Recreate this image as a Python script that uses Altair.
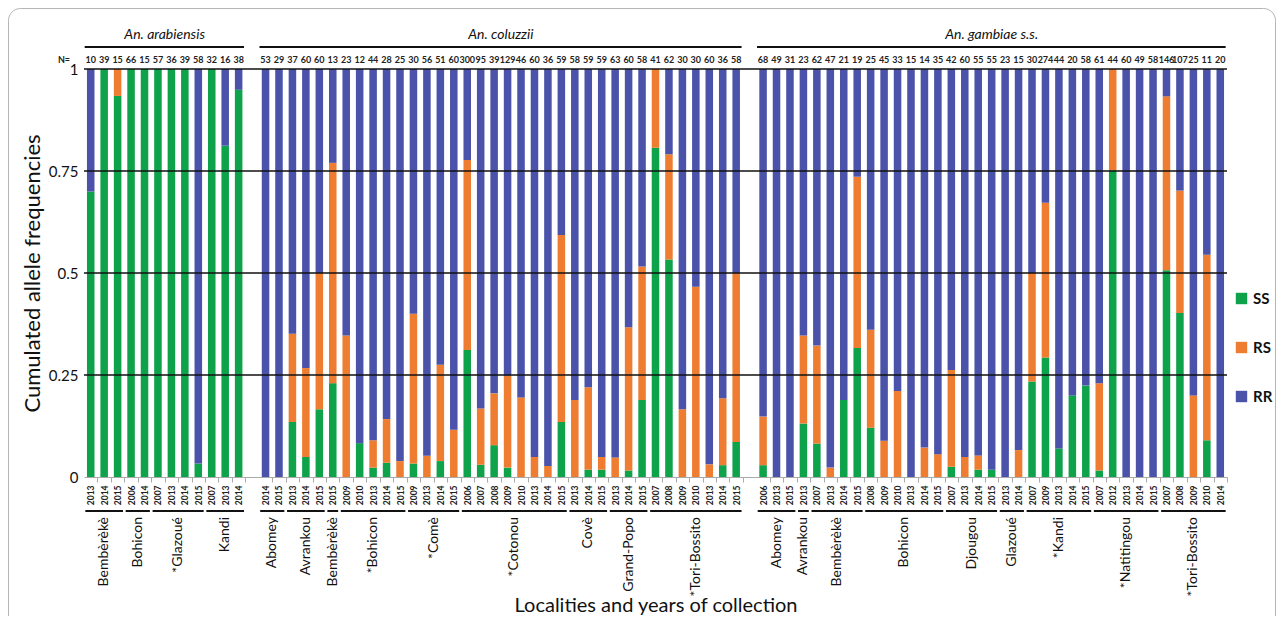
import altair as alt
import pandas as pd

FONT = "Lato"
NARROW = "Liberation Sans Narrow, Lato"

SPECIES = ["An. arabiensis", "An. coluzzii", "An. gambiae s.s."]
GENOTYPES = ["SS", "RS", "RR"]
COLORS = ["#0ea24b", "#ee7d31", "#4a53a9"]

# ---- An. arabiensis ----
ARAB_LOCALITIES = ["Bembèrèkè", "Bohicon", "*Glazoué", "Kandi"]
ARAB_YEARS = [["2013", "2014", "2015"], ["2006", "2014"],
              ["2007", "2013", "2014", "2015"], ["2007", "2013", "2014"]]
ARAB_N = [10, 39, 15, 66, 15, 57, 36, 39, 58, 32, 16, 38]
ARAB_SS = [0.70, 1, 0.934, 1, 1, 1, 1, 1, 0.033, 1, 0.812, 0.949]
ARAB_RS = [0, 0, 0.066, 0, 0, 0, 0, 0, 0, 0, 0, 0]

# ---- An. coluzzii ----
COLU_LOCALITIES = ["Abomey", "Avrankou", "Bembèrèkè", "*Bohicon", "*Comè",
                   "*Cotonou", "Covè", "Grand-Popo", "*Tori-Bossito"]
COLU_YEARS = [["2014", "2015"], ["2013", "2014", "2015"], ["2015"],
              ["2009", "2010", "2013", "2014", "2015"],
              ["2009", "2013", "2014", "2015"],
              ["2006", "2007", "2008", "2009", "2010", "2013", "2014", "2015"],
              ["2013", "2014", "2015"], ["2013", "2014", "2015"],
              ["2007", "2008", "2009", "2010", "2013", "2014", "2015"]]
COLU_N = [53, 29, 37, 60, 60, 13, 23, 12, 44, 28, 25, 30, 56, 51, 60, 300, 95, 39,
          129, 46, 60, 36, 59, 58, 59, 59, 63, 60, 58, 41, 62, 30, 30, 60, 36, 58]
COLU_SS = [0, 0, 0.135, 0.049, 0.166, 0.23, 0, 0.083, 0.023, 0.035, 0, 0.033,
           0, 0.039, 0, 0.311, 0.03, 0.078, 0.023, 0, 0, 0, 0.135, 0, 0.018,
           0.018, 0, 0.016, 0.189, 0.807, 0.533, 0, 0, 0, 0.029, 0.086]
COLU_RS = [0, 0, 0.216, 0.218, 0.334, 0.54, 0.347, 0, 0.067, 0.107, 0.039, 0.367,
           0.052, 0.236, 0.116, 0.466, 0.138, 0.127, 0.225, 0.195, 0.049, 0.027,
           0.458, 0.189, 0.202, 0.031, 0.048, 0.351, 0.327, 0.193, 0.258, 0.166,
           0.466, 0.031, 0.164, 0.414]

# ---- An. gambiae s.s. ----
GAMB_LOCALITIES = ["Abomey", "Avrankou", "Bembèrèkè", "Bohicon", "Djougou",
                   "Glazoué", "*Kandi", "*Natitingou", "*Tori-Bossito"]
GAMB_YEARS = [["2006", "2013", "2015"], ["2013"], ["2007", "2013", "2014", "2015"],
              ["2008", "2009", "2010", "2013", "2014", "2015"],
              ["2007", "2013", "2014", "2015"], ["2013", "2014"],
              ["2007", "2009", "2013", "2014", "2015"],
              ["2007", "2012", "2013", "2014", "2015"],
              ["2007", "2008", "2009", "2010", "2014"]]
GAMB_N = [68, 49, 31, 23, 62, 47, 21, 19, 25, 45, 33, 15, 14, 35, 42, 60, 55, 55,
          23, 15, 30, 274, 44, 20, 58, 61, 44, 60, 49, 58, 146, 107, 25, 11, 20]
GAMB_SS = [0.029, 0, 0, 0.131, 0.082, 0, 0.189, 0.316, 0.121, 0, 0, 0, 0, 0,
           0.025, 0, 0.018, 0.018, 0, 0, 0.234, 0.293, 0.07, 0.2, 0.224, 0.016,
           0.752, 0, 0, 0, 0.507, 0.402, 0, 0.09, 0]
GAMB_RS = [0.119, 0, 0, 0.216, 0.24, 0.023, 0, 0.42, 0.24, 0.089, 0.211, 0, 0.072,
           0.056, 0.237, 0.049, 0.035, 0, 0, 0.066, 0.266, 0.379, 0, 0, 0, 0.214,
           0.248, 0, 0, 0, 0.426, 0.3, 0.2, 0.455, 0]

GROUPS = [
    (SPECIES[0], ARAB_LOCALITIES, ARAB_YEARS, ARAB_N, ARAB_SS, ARAB_RS),
    (SPECIES[1], COLU_LOCALITIES, COLU_YEARS, COLU_N, COLU_SS, COLU_RS),
    (SPECIES[2], GAMB_LOCALITIES, GAMB_YEARS, GAMB_N, GAMB_SS, GAMB_RS),
]

# ---- build tables (one empty slot between species) ----
bar_rows, n_rows, loc_rows, sp_rows = [], [], [], []
year_by_slot = {}
slot = 0
for gi, (sp, locs, years, ns, ss, rs) in enumerate(GROUPS):
    if gi > 0:
        slot += 1
    sp_start = slot
    k = 0
    for loc, yrs in zip(locs, years):
        loc_start = slot
        for yr in yrs:
            s, r = ss[k], rs[k]
            for g, lo, hi in (("SS", 0, s), ("RS", s, s + r), ("RR", s + r, 1)):
                if hi - lo > 1e-9:
                    bar_rows.append({"x": slot - 0.28, "x2": slot + 0.28,
                                     "y": lo, "y2": hi, "geno": g})
            n_rows.append({"x": slot, "n": str(ns[k])})
            year_by_slot[slot] = yr
            k += 1
            slot += 1
        loc_end = slot - 1
        loc_rows.append({"name": loc, "c": (loc_start + loc_end) / 2,
                         "x": loc_start - 0.4, "x2": loc_end + 0.4})
    sp_rows.append({"name": sp, "c": (sp_start + slot - 1) / 2,
                    "x": sp_start - 0.45, "x2": slot - 1 + 0.4})

n_slots = slot
bars = pd.DataFrame(bar_rows)
ndf = pd.DataFrame(n_rows)
ldf = pd.DataFrame(loc_rows)
sdf = pd.DataFrame(sp_rows)
grid_df = pd.DataFrame({"y": [0.25, 0.5, 0.75, 1.0]})
one = pd.DataFrame({"k": [0]})

W, H = 1143, 408
xs = alt.Scale(domain=[-0.5, n_slots - 0.5], nice=False, zero=False)
ys = alt.Scale(domain=[0, 1], nice=False)

year_arr = "[" + ",".join("'" + year_by_slot.get(i, "") + "'" for i in range(n_slots)) + "]"
pitch = W / n_slots

X_TITLE = "Localities and years of collection"
Y_TITLE = "Cumulated allele frequencies"

x_axis = alt.Axis(values=sorted(year_by_slot.keys()),
                  labelExpr=year_arr + "[datum.value]",
                  labelAngle=270, labelFontSize=8.5, labelFontWeight="bold",
                  labelFont=FONT, labelColor="#222", labelPadding=3,
                  labelOverlap=False, labelFlush=False,
                  tickSize=5, tickColor="#aaa", domainColor="#aaa",
                  tickOffset=pitch / 2, labelOffset=-pitch / 2,
                  grid=False, titleFont=FONT, titleFontSize=20,
                  titleFontWeight="normal", titleColor="#111",
                  titleY=134, titleBaseline="alphabetic")

bar_layer = alt.Chart(bars).mark_bar().encode(
    x=alt.X("x:Q", scale=xs, title=X_TITLE, axis=x_axis),
    x2="x2:Q",
    y=alt.Y("y:Q", scale=ys, title=Y_TITLE,
            axis=alt.Axis(values=[0, 0.25, 0.5, 0.75, 1], format=".2~f",
                          labelFontSize=15, labelFont=FONT, labelColor="#111",
                          labelPadding=6, domain=False, ticks=False, grid=False,
                          titleFont=FONT, titleFontSize=22, titleFontWeight="normal",
                          titleColor="#111", titlePadding=4)),
    y2="y2:Q",
    color=alt.Color("geno:N",
                    scale=alt.Scale(domain=GENOTYPES, range=COLORS),
                    legend=alt.Legend(orient="none", legendX=1150, legendY=222,
                                      title=None, symbolType="square",
                                      symbolSize=130, symbolStrokeWidth=0,
                                      symbolOpacity=1,
                                      labelFontSize=15, labelFontWeight="bold",
                                      labelFont=FONT, labelColor="#111",
                                      labelOffset=4, rowPadding=33, padding=0)),
)

grid_layer = alt.Chart(grid_df).mark_rule(color="#111", strokeWidth=1.6).encode(
    y=alt.Y("y:Q", scale=ys, title=Y_TITLE))

n_layer = alt.Chart(ndf).mark_text(fontSize=9, fontWeight="bold", font=NARROW,
                                   baseline="bottom", color="#222").encode(
    x=alt.X("x:Q", scale=xs, title=X_TITLE, axis=x_axis), y=alt.value(-4),
    text="n:N")

nlabel_layer = alt.Chart(one).mark_text(text="N=", fontSize=9, fontWeight="bold",
                                        font=NARROW, baseline="bottom",
                                        align="center", color="#222").encode(
    x=alt.value(-20), y=alt.value(-4))

sp_text = alt.Chart(sdf).mark_text(fontSize=14, fontStyle="italic", font=FONT,
                                   baseline="middle", color="#111").encode(
    x=alt.X("c:Q", scale=xs, title=X_TITLE, axis=x_axis), y=alt.value(-34),
    text="name:N")

sp_rule = alt.Chart(sdf).mark_rule(color="#111", strokeWidth=2).encode(
    x=alt.X("x:Q", scale=xs, title=X_TITLE, axis=x_axis), x2="x2:Q",
    y=alt.value(-22))

loc_rule = alt.Chart(ldf).mark_rule(color="#111", strokeWidth=2).encode(
    x=alt.X("x:Q", scale=xs, title=X_TITLE, axis=x_axis), x2="x2:Q",
    y=alt.value(H + 34))

loc_text = alt.Chart(ldf).mark_text(fontSize=14, font=FONT, angle=270,
                                    align="right", baseline="middle",
                                    color="#111").encode(
    x=alt.X("c:Q", scale=xs, title=X_TITLE, axis=x_axis), y=alt.value(H + 40),
    text="name:N")

frame = alt.Chart(one).mark_rect(filled=False, stroke="#b5b5b5", strokeWidth=1,
                                 cornerRadius=12).encode(
    x=alt.value(-75.5), x2=alt.value(W + 48.5),
    y=alt.value(-60.5), y2=alt.value(H + 170))

chart = alt.layer(bar_layer, grid_layer, n_layer, nlabel_layer, sp_text, sp_rule,
                  loc_rule, loc_text, frame).properties(
    width=W, height=H,
    autosize=alt.AutoSizeParams(type="none"),
    padding={"left": 76, "top": 61, "right": 49, "bottom": 139},
    background="white",
).configure_view(stroke=None).configure_axisX(labelOverlap=False)

chart.save("out.html", embed_options={"renderer": "svg", "actions": False})
